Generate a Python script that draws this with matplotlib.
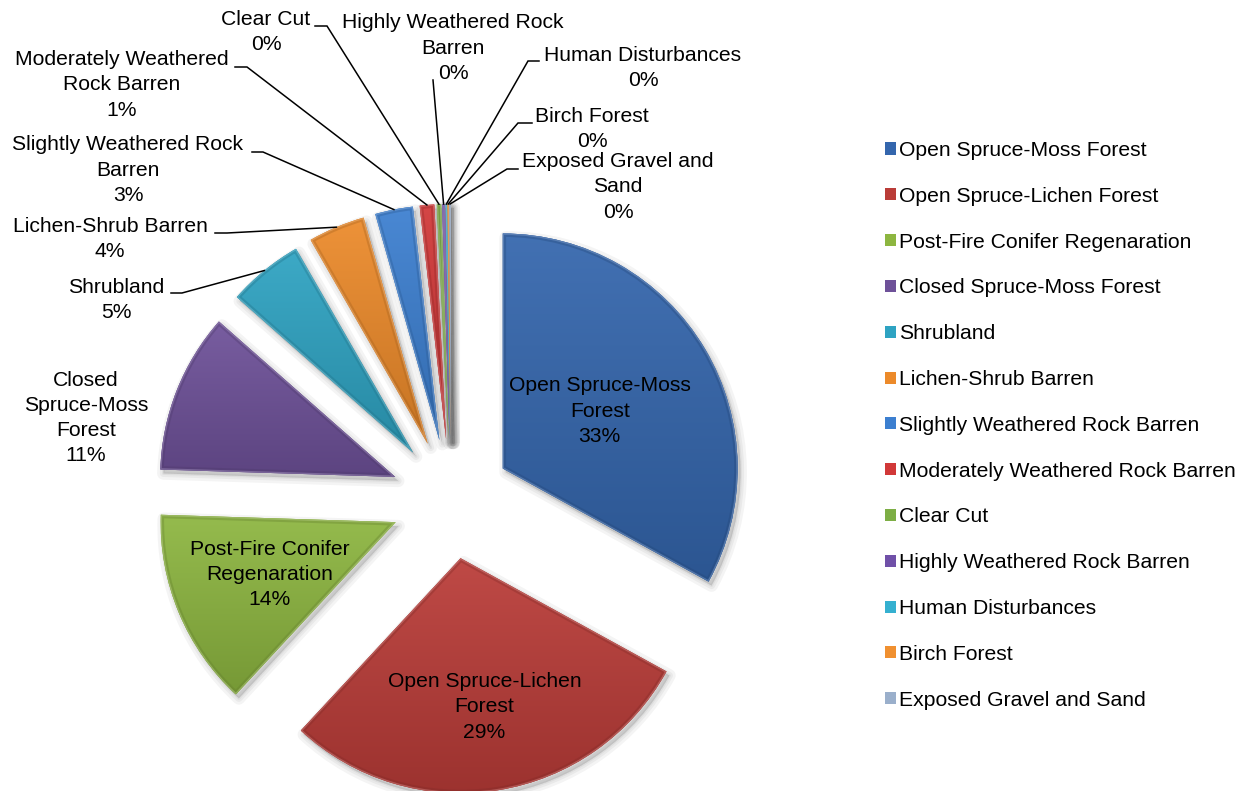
import numpy as np
import matplotlib.pyplot as plt
from matplotlib.colors import to_rgb
from matplotlib.patches import PathPatch
from matplotlib.transforms import Affine2D

W, H = 1254, 791

categories = [
    "Open Spruce-Moss Forest",
    "Open Spruce-Lichen Forest",
    "Post-Fire Conifer Regenaration",
    "Closed Spruce-Moss Forest",
    "Shrubland",
    "Lichen-Shrub Barren",
    "Slightly Weathered Rock Barren",
    "Moderately Weathered Rock Barren",
    "Clear Cut",
    "Highly Weathered Rock Barren",
    "Human Disturbances",
    "Birch Forest",
    "Exposed Gravel and Sand",
]
# share of mapped area, percent
shares = [33.0, 28.9, 13.6, 11.0, 5.2, 3.9, 2.6, 1.0, 0.3, 0.2, 0.1, 0.1, 0.1]

# names as they are wrapped on the chart
wrapped = [
    "Open Spruce-Moss\nForest",
    "Open Spruce-Lichen\nForest",
    "Post-Fire Conifer\nRegenaration",
    "Closed\nSpruce-Moss\nForest",
    "Shrubland",
    "Lichen-Shrub Barren",
    "Slightly Weathered Rock\nBarren",
    "Moderately Weathered\nRock Barren",
    "Clear Cut",
    "Highly Weathered Rock\nBarren",
    "Human Disturbances",
    "Birch Forest",
    "Exposed Gravel and\nSand",
]

colors = ["#3466AD", "#BA3C38", "#8DB640", "#6E5199", "#2EA3C2", "#EC8A2A",
          "#3C7FD0", "#D13838", "#7DAE45", "#7050A8", "#35B0D0", "#F09030",
          "#9AAFCB"]

plt.rcParams["font.family"] = ["Liberation Sans", "DejaVu Sans"]
FS = 15.2
LS = 1.42


def py(y):
    # rows counted from the top of the image
    return H - y


fig = plt.figure(figsize=(W / 100, H / 100), dpi=100)
ax = fig.add_axes([0, 0, 1, 1])

radius = 235
# every slice pulled out by the same distance (data units = pixels here)
pull = 60
wedges, _ = ax.pie(shares, colors=colors, startangle=90, counterclock=False,
                   center=(451, py(499)), radius=radius,
                   explode=[pull] * len(shares),
                   wedgeprops=dict(linewidth=0, zorder=2))

# soft drop shadow, gradient fill and bevel edge for each slice
for w, c in zip(wedges, colors):
    path = w.get_path()
    base = np.array(to_rgb(c))
    for lw in [9, 5, 2]:
        sh = PathPatch(Affine2D().translate(3, -4).transform_path(path),
                       fc="black", ec="black", lw=lw, alpha=0.045,
                       zorder=1, joinstyle="round")
        ax.add_patch(sh)
    ext = path.get_extents()
    top = base + (1 - base) * 0.07
    bot = base * 0.84
    g = np.linspace(0, 1, 256)[:, None, None]
    img = top * (1 - g) + bot * g
    im = ax.imshow(img, extent=(ext.x0, ext.x1, ext.y0, ext.y1),
                   origin="upper", aspect="auto", interpolation="bilinear",
                   zorder=3)
    im.set_clip_path(w)
    # darker rim, then a thin light bevel just inside it
    rim = PathPatch(path, fc="none", ec=base * 0.7, lw=5, alpha=0.35,
                    zorder=4)
    ax.add_patch(rim)
    rim.set_clip_path(w)
    edge = PathPatch(path, fc="none", ec=base + (1 - base) * 0.4, lw=2,
                     alpha=0.45, zorder=4)
    ax.add_patch(edge)
    edge.set_clip_path(w)


def arc_point(w):
    mid = np.deg2rad((w.theta1 + w.theta2) / 2)
    return (w.center[0] + w.r * np.cos(mid), w.center[1] + w.r * np.sin(mid))


def pct(v):
    return f"{round(v):.0f}%"


# labels inside the three largest slices: distance from the slice tip
inside = {0: 0.48, 1: 0.64, 2: 0.58}
for i, frac in inside.items():
    w = wedges[i]
    mid = np.deg2rad((w.theta1 + w.theta2) / 2)
    x = w.center[0] + w.r * frac * np.cos(mid)
    y = w.center[1] + w.r * frac * np.sin(mid)
    ax.text(x, y, f"{wrapped[i]}\n{pct(shares[i])}", ha="center",
            va="center", multialignment="center", fontsize=FS,
            linespacing=LS, zorder=6)

# outside labels: text centre, then the short horizontal leader piece
outside = {
    3: ((86, 418), None),
    4: ((116, 300), ((171, 293), (182, 293))),
    5: ((110, 239), ((215, 233), (227, 233))),
    6: ((128, 170), ((252, 152), (263, 152))),
    7: ((122, 85), ((235, 67), (247, 67))),
    8: ((266, 32), ((315, 26), (327, 26))),
    9: ((453, 48), ((433, 80), (433, 80))),
    10: ((643, 68), ((539, 61), (528, 61))),
    11: ((592, 129), ((532, 123), (518, 123))),
    12: ((618, 187), ((518, 169), (507, 169))),
}
for i, ((tx, ty), seg) in outside.items():
    ax.text(tx, py(ty), f"{wrapped[i]}\n{pct(shares[i])}", ha="center",
            va="center", multialignment="center", fontsize=FS,
            linespacing=LS, zorder=6)
    if seg is None:
        continue
    (x0, y0), (x1, y1) = seg
    ex, ey = arc_point(wedges[i])
    ax.plot([x0, x1, ex], [py(y0), py(y1), ey], color="black", lw=1.1,
            zorder=5, solid_joinstyle="miter")

ax.legend(wedges, categories, loc="upper left",
          bbox_to_anchor=(885 / W, 1 - 141 / H), frameon=False, fontsize=FS,
          handlelength=0.5, handleheight=0.5, handletextpad=0.15,
          labelspacing=1.27, borderpad=0, borderaxespad=0)

ax.set_xlim(0, W)
ax.set_ylim(0, H)
ax.axis("off")

fig.savefig("out.png", dpi=100)
